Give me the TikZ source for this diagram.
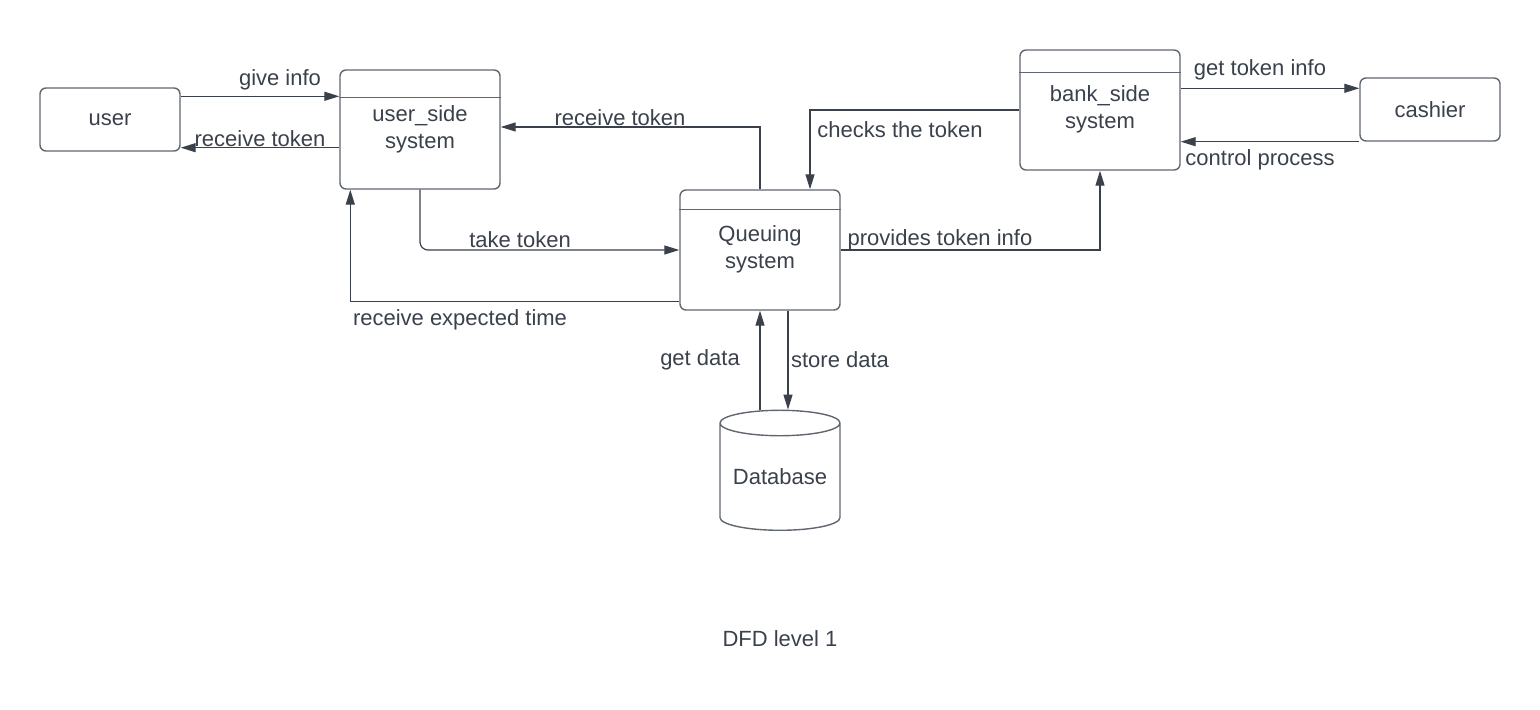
\documentclass[tikz,border=0pt]{standalone}
\usepackage{fontspec}
\setmainfont{Liberation Sans}
\usetikzlibrary{arrows.meta,shapes.geometric}
\definecolor{lcline}{HTML}{3A414A}
\definecolor{lcbox}{HTML}{5F6670}
\tikzset{
	extbox/.style={draw=lcbox, line width=0.7pt, rounded corners=3pt, minimum width=70pt, minimum height=31.5pt, inner sep=0pt},
	procbox/.style={draw=lcbox, line width=0.7pt, rounded corners=3pt, minimum width=80pt, minimum height=60pt, inner sep=0pt},
	flow/.style={draw=lcline, line width=0.6pt, -{Triangle[length=7.5pt,width=4.5pt]}},
	lbl/.style={inner sep=0pt},
}
\begin{document}
\begin{tikzpicture}[x=0.5pt, y=-0.5pt, every node/.style={font=\fontsize{11}{13.5}\selectfont, text=lcline}]
\useasboundingbox (0,0) rectangle (1540,710);
\node[extbox] (user) at (110,119.5) {user};
\node[extbox] (cash) at (1430,109.5) {cashier};
\node[procbox, minimum height=59.5pt, label={[anchor=center,align=center,yshift=-30pt]north:{user\_side\\system}}] (usys) at (420,129.5) {};
\node[procbox, label={[anchor=center,align=center,yshift=-30pt]north:{Queuing\\system}}] (qsys) at (760,250) {};
\node[procbox, label={[anchor=center,align=center,yshift=-30pt]north:{bank\_side\\system}}] (bsys) at (1100,110) {};
\foreach \nd/\hd in {usys/14pt,qsys/10pt,bsys/11.5pt}
	\draw[lcbox, line width=0.7pt] ([yshift=-\hd]\nd.north west) -- ([yshift=-\hd]\nd.north east);
\node[draw=lcbox, line width=0.7pt, cylinder, shape border rotate=90, aspect=0.27, minimum width=60pt, minimum height=60pt, inner sep=0pt] (db) at (780,477) {Database};
\draw[flow] ([yshift=-4.5pt]user.north east) -- ([yshift=-4.5pt]user.north east -| usys.west);
\draw[flow] ([yshift=2pt]user.south east -| usys.west) -- ([yshift=2pt]user.south east);
\draw[flow] (qsys.north) |- ([yshift=1.25pt]usys.east);
\draw[flow] (bsys.west) -| ([xshift=25pt]qsys.north);
\draw[flow, rounded corners=4pt] (usys.south) |- (qsys.west);
\draw[flow] ([yshift=4.5pt]qsys.south west) -| ([xshift=5.5pt]usys.south west);
\draw[flow] (qsys.east) -| (bsys.south);
\draw[flow] ([yshift=-5.5pt]cash.north west -| bsys.east) -- ([yshift=-5.5pt]cash.north west);
\draw[flow] (cash.south west) -- (cash.south west -| bsys.east);
\draw[flow] ([xshift=-10pt]db.north) -- ([xshift=-10pt]db.north |- qsys.south);
\draw[flow] ([xshift=4pt]db.north |- qsys.south) -- ([xshift=4pt]db.north);
\foreach \nm/\px/\py/\txt in {lgive/280/80/give info, lrecvu/260/139/receive token, lrecvq/620/118/receive token,
	lcheck/900/130/checks the token, ltake/520/240/take token, lexp/460/320/receive expected time,
	lprov/940/240/provides token info, lget/1260/70/get token info, lctrl/1260/160/control process,
	lgetd/700/360/get data, lstore/840/360/store data, ltitle/780/639/DFD level 1}
	\node[lbl] (\nm) at (\px,\py) {\txt};
\end{tikzpicture}
\end{document}
